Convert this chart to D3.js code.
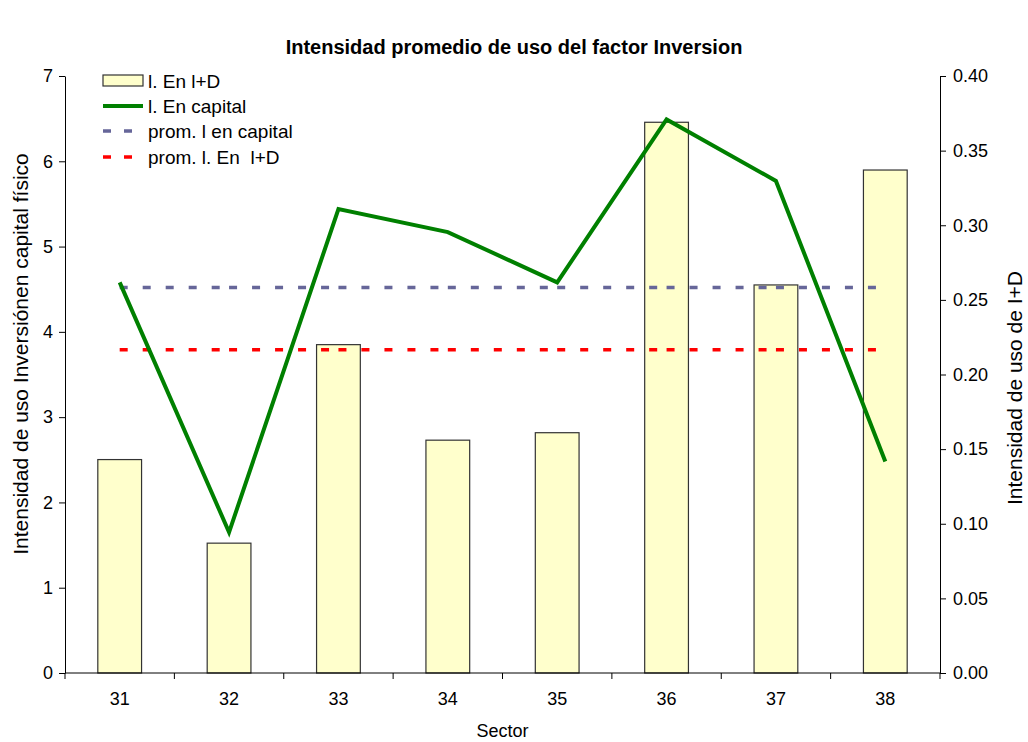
<!DOCTYPE html>
<html lang="es">
<head>
    <meta charset="UTF-8">
    <title>Intensidad promedio de uso del factor Inversion</title>
    <script src="https://d3js.org/d3.v7.min.js"></script>
    <style>
        body {
            margin: 0;
            padding: 0;
            background: #fff;
            font-family: Arial, "Liberation Sans", sans-serif;
        }
        .axis path, .axis line {
            stroke: #000;
        }
        .axis text {
            font-size: 18px;
            fill: #000;
            font-family: Arial, "Liberation Sans", sans-serif;
        }
    </style>
</head>
<body>
    <svg id="chart"></svg>
    <script>
        // Data
        const sectors = ["31", "32", "33", "34", "35", "36", "37", "38"];
        const idValues = [0.143, 0.087, 0.220, 0.156, 0.161, 0.369, 0.260, 0.337];   // I. En I+D (right axis)
        const capitalValues = [4.58, 1.65, 5.44, 5.17, 4.58, 6.49, 5.77, 2.48];      // I. En capital (left axis)
        const promCapital = 4.52;   // prom. I en capital
        const promID = 0.2165;      // prom. I. En I+D
        const leftTicks = [0, 1, 2, 3, 4, 5, 6, 7];
        const rightTicks = [0, 0.05, 0.10, 0.15, 0.20, 0.25, 0.30, 0.35, 0.40];

        const W = 1028, H = 742;
        const plot = { left: 65, right: 940, top: 76, bottom: 673 };

        const svg = d3.select("#chart")
            .attr("width", W)
            .attr("height", H);

        // Scales
        const x = d3.scaleBand()
            .domain(sectors)
            .range([plot.left, plot.right])
            .paddingInner(0.6)
            .paddingOuter(0.3);

        const xStep = d3.scaleBand()
            .domain(sectors)
            .range([plot.left, plot.right]);

        const yLeft = d3.scaleLinear().domain([0, 7]).range([plot.bottom, plot.top]);
        const yRight = d3.scaleLinear().domain([0, 0.40]).range([plot.bottom, plot.top]);

        const cx = s => xStep(s) + xStep.bandwidth() / 2;

        // Bars (I+D on right axis)
        svg.append("g")
            .selectAll("rect")
            .data(sectors)
            .join("rect")
            .attr("x", d => x(d))
            .attr("y", (d, i) => yRight(idValues[i]))
            .attr("width", x.bandwidth())
            .attr("height", (d, i) => plot.bottom - yRight(idValues[i]))
            .attr("fill", "#FFFFCC")
            .attr("stroke", "#333")
            .attr("stroke-width", 1.2);

        // Average lines, dash pattern restarts on each segment
        function dashedAvg(yPos, color) {
            const g = svg.append("g");
            for (let i = 0; i < sectors.length - 1; i++) {
                g.append("line")
                    .attr("x1", cx(sectors[i]))
                    .attr("x2", cx(sectors[i + 1]))
                    .attr("y1", yPos)
                    .attr("y2", yPos)
                    .attr("stroke", color)
                    .attr("stroke-width", 3.5)
                    .attr("stroke-dasharray", "8,15");
            }
        }
        dashedAvg(yLeft(promCapital), "#666699");
        dashedAvg(yRight(promID), "#FF0000");

        // Capital line (left axis)
        const line = d3.line()
            .x((d, i) => cx(sectors[i]))
            .y(d => yLeft(d));

        svg.append("path")
            .datum(capitalValues)
            .attr("d", line)
            .attr("fill", "none")
            .attr("stroke", "#008000")
            .attr("stroke-width", 4)
            .attr("stroke-linejoin", "miter");

        // Axes
        svg.append("g")
            .attr("class", "axis")
            .attr("transform", `translate(${plot.left},0)`)
            .call(d3.axisLeft(yLeft).tickValues(leftTicks).tickSize(6).tickPadding(6).tickSizeOuter(0)
                .tickFormat(d3.format("d")));

        svg.append("g")
            .attr("class", "axis")
            .attr("transform", `translate(${plot.right},0)`)
            .call(d3.axisRight(yRight).tickValues(rightTicks).tickSize(6).tickPadding(7).tickSizeOuter(0)
                .tickFormat(d3.format(".2f")));

        const xAxis = svg.append("g")
            .attr("class", "axis")
            .attr("transform", `translate(0,${plot.bottom})`)
            .call(d3.axisBottom(x).tickSize(0).tickPadding(19));
        xAxis.select(".domain").remove();

        // boundary ticks on x axis
        const bounds = sectors.map(s => xStep(s)).concat([plot.right]);
        svg.append("line")
            .attr("x1", plot.left).attr("x2", plot.right)
            .attr("y1", plot.bottom).attr("y2", plot.bottom)
            .attr("stroke", "#000");
        svg.append("g")
            .selectAll("line")
            .data(bounds)
            .join("line")
            .attr("x1", d => d).attr("x2", d => d)
            .attr("y1", plot.bottom).attr("y2", plot.bottom + 6)
            .attr("stroke", "#000");

        // Title and axis labels
        svg.append("text")
            .attr("x", 514)
            .attr("y", 54)
            .attr("text-anchor", "middle")
            .attr("font-size", "20px")
            .attr("font-weight", "bold")
            .text("Intensidad promedio de uso del factor Inversion");

        svg.append("text")
            .attr("x", (plot.left + plot.right) / 2)
            .attr("y", 737)
            .attr("text-anchor", "middle")
            .attr("font-size", "18px")
            .text("Sector");

        svg.append("text")
            .attr("transform", `translate(28,354) rotate(-90)`)
            .attr("text-anchor", "middle")
            .attr("font-size", "21px")
            .text("Intensidad de uso Inversiónen capital físico");

        svg.append("text")
            .attr("transform", `translate(1022,388) rotate(-90)`)
            .attr("text-anchor", "middle")
            .attr("font-size", "21px")
            .text("Intensidad de uso de I+D");

        // Legend
        const legend = svg.append("g").attr("transform", "translate(103,0)");
        const rows = [
            { label: "l. En l+D", type: "bar" },
            { label: "l. En capital", type: "line", color: "#008000" },
            { label: "prom. l en capital", type: "dash", color: "#666699" },
            { label: "prom. l. En  l+D", type: "dash", color: "#FF0000" }
        ];
        const rowY = [80.5, 106, 131, 157];

        rows.forEach((r, i) => {
            const g = legend.append("g").attr("transform", `translate(0,${rowY[i]})`);
            if (r.type === "bar") {
                g.append("rect")
                    .attr("x", 0).attr("y", -5.5)
                    .attr("width", 40).attr("height", 11)
                    .attr("fill", "#FFFFCC").attr("stroke", "#333").attr("stroke-width", 1.2);
            } else if (r.type === "line") {
                g.append("line")
                    .attr("x1", 0).attr("x2", 40)
                    .attr("stroke", r.color).attr("stroke-width", 4);
            } else {
                g.append("line")
                    .attr("x1", 0).attr("x2", 40)
                    .attr("stroke", r.color).attr("stroke-width", 3.5)
                    .attr("stroke-dasharray", "8,13");
            }
            g.append("text")
                .attr("x", 45)
                .attr("y", 7)
                .attr("font-size", "19px")
                .style("white-space", "pre")
                .text(r.label);
        });
    </script>
</body>
</html>
